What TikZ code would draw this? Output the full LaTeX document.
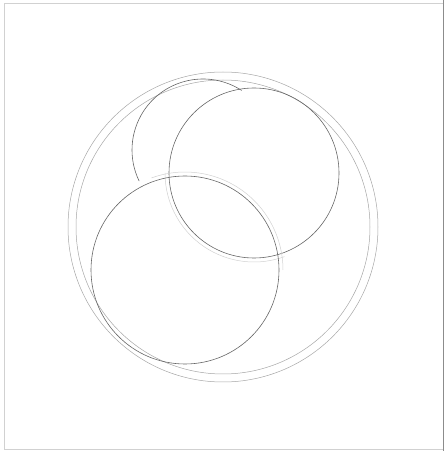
\documentclass[tikz,border=0pt]{standalone}
\begin{document}
\begin{tikzpicture}[x=1pt,y=1pt,
  ln/.style={draw=black!60,line width=0.6pt},
  mid/.style={draw=black!35,line width=0.5pt},
  faint/.style={draw=black!18,line width=0.5pt}]
\useasboundingbox (0,0) rectangle (445,451);
\draw[faint] (4,2) rectangle (443,448);
\draw[draw=black!45,line width=0.6pt] (443,0) -- (443,451);
% outer ring
\coordinate (O) at (223,224);
\draw[mid] (O) circle[radius=155];
\draw[mid] (O) circle[radius=147];
% top-right circle
\coordinate (A) at (254,278);
\draw[ln] (A) circle[radius=85];
\draw[faint] (A) ++(180:89) arc[start angle=180,end angle=290,radius=89];
% bottom-left circle
\coordinate (B) at (185,181);
\draw[ln] (B) circle[radius=94];
\draw[faint] (B) ++(0:98) arc[start angle=0,end angle=110,radius=98];
% crescent arc
\coordinate (C) at (203,301);
\draw[ln] (C) ++(57:71) arc[start angle=57,end angle=206,radius=71];
\end{tikzpicture}
\end{document}
